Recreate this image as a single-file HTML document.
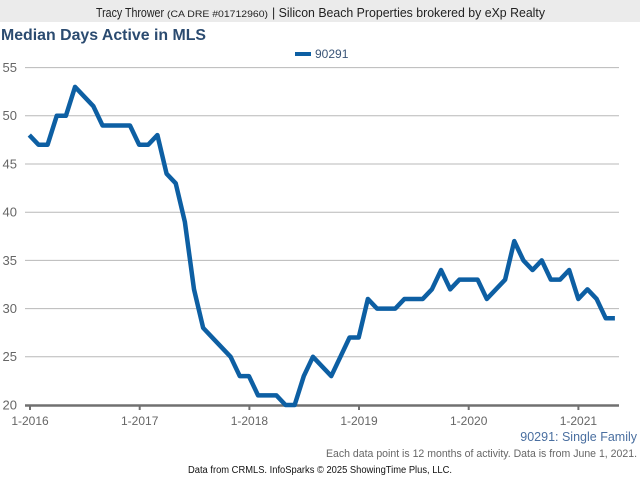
<!DOCTYPE html>
<html>
<head>
<meta charset="utf-8">
<style>
html,body{margin:0;padding:0;background:#fff;}
svg{display:block;}
text{font-family:"Liberation Sans",Arial,sans-serif;}
</style>
</head>
<body>
<svg width="640" height="480" viewBox="0 0 640 480" xmlns="http://www.w3.org/2000/svg">
<rect x="0" y="0" width="640" height="480" fill="#ffffff"/>
<rect x="0" y="0" width="640" height="22" fill="#ebebeb"/>
<text x="96" y="17" font-size="13" fill="#222" textLength="68" lengthAdjust="spacingAndGlyphs">Tracy Thrower</text>
<text x="167" y="17" font-size="9" fill="#222" textLength="101" lengthAdjust="spacingAndGlyphs">(CA DRE #01712960)</text>
<text x="272" y="17" font-size="13" fill="#222" textLength="273" lengthAdjust="spacingAndGlyphs">| Silicon Beach Properties brokered by eXp Realty</text>

<text x="1" y="40" font-size="16" font-weight="bold" fill="#2b4b70" textLength="205" lengthAdjust="spacingAndGlyphs">Median Days Active in MLS</text>

<!-- legend -->
<line x1="295" y1="54" x2="311" y2="54" stroke="#0d5fa3" stroke-width="4"/>
<text x="315" y="58" font-size="12" fill="#3a5578">90291</text>

<!-- grid -->
<g stroke="#b8b8b8" stroke-width="1">
<line x1="25" y1="67.6" x2="619" y2="67.6"/>
<line x1="25" y1="115.8" x2="619" y2="115.8"/>
<line x1="25" y1="164" x2="619" y2="164"/>
<line x1="25" y1="212.2" x2="619" y2="212.2"/>
<line x1="25" y1="260.4" x2="619" y2="260.4"/>
<line x1="25" y1="308.6" x2="619" y2="308.6"/>
<line x1="25" y1="356.8" x2="619" y2="356.8"/>
</g>
<g font-size="13" fill="#666" text-anchor="end">
<text x="17" y="72">55</text>
<text x="17" y="120">50</text>
<text x="17" y="168.5">45</text>
<text x="17" y="216.5">40</text>
<text x="17" y="265">35</text>
<text x="17" y="313">30</text>
<text x="17" y="361">25</text>
<text x="17" y="409.5">20</text>
</g>

<!-- x axis -->
<line x1="25" y1="405.5" x2="619" y2="405.5" stroke="#707070" stroke-width="2.5"/>
<g stroke="#707070" stroke-width="2">
<line x1="30" y1="405" x2="30" y2="410"/>
<line x1="139.7" y1="405" x2="139.7" y2="410"/>
<line x1="249.4" y1="405" x2="249.4" y2="410"/>
<line x1="359" y1="405" x2="359" y2="410"/>
<line x1="468.7" y1="405" x2="468.7" y2="410"/>
<line x1="578.4" y1="405" x2="578.4" y2="410"/>
</g>
<g font-size="12" fill="#666" text-anchor="middle">
<text x="30" y="425">1-2016</text>
<text x="139.7" y="425">1-2017</text>
<text x="249.4" y="425">1-2018</text>
<text x="359" y="425">1-2019</text>
<text x="468.7" y="425">1-2020</text>
<text x="578.4" y="425">1-2021</text>
</g>

<!-- series -->
<polyline fill="none" stroke="#0d5fa3" stroke-width="4.5" stroke-linejoin="round" stroke-linecap="butt" points="
29.3,135.08 38.45,144.72 47.6,144.72 56.75,115.8 65.9,115.8 75.05,86.88 84.2,96.52 93.35,106.16 102.5,125.44 111.65,125.44 120.8,125.44 129.95,125.44 139.1,144.72 148.25,144.72 157.4,135.08 166.55,173.64 175.7,183.28 184.85,221.84 194,289.32 203.15,327.88 212.3,337.52 221.45,347.16 230.6,356.8 239.75,376.08 248.9,376.08 258.05,395.36 267.2,395.36 276.35,395.36 285.5,405 294.65,405 303.8,376.08 312.95,356.8 322.1,366.44 331.25,376.08 340.4,356.8 349.55,337.52 358.7,337.52 367.85,298.96 377,308.6 386.15,308.6 395.3,308.6 404.45,298.96 413.6,298.96 422.75,298.96 431.9,289.32 441.05,270.04 450.2,289.32 459.35,279.68 468.5,279.68 477.65,279.68 486.8,298.96 495.95,289.32 505.1,279.68 514.25,241.12 523.4,260.4 532.55,270.04 541.7,260.4 550.85,279.68 560,279.68 569.15,270.04 578.3,298.96 587.45,289.32 596.6,298.96 605.75,318.28 614.9,318.28"/>

<!-- footer -->
<text x="637" y="441" font-size="12.5" fill="#4a6fa0" text-anchor="end">90291: Single Family</text>
<text x="637" y="457" font-size="11" fill="#666" text-anchor="end" textLength="311" lengthAdjust="spacingAndGlyphs">Each data point is 12 months of activity. Data is from June 1, 2021.</text>
<text x="188" y="473" font-size="10" fill="#111" textLength="264" lengthAdjust="spacingAndGlyphs">Data from CRMLS. InfoSparks © 2025 ShowingTime Plus, LLC.</text>
</svg>
</body>
</html>
